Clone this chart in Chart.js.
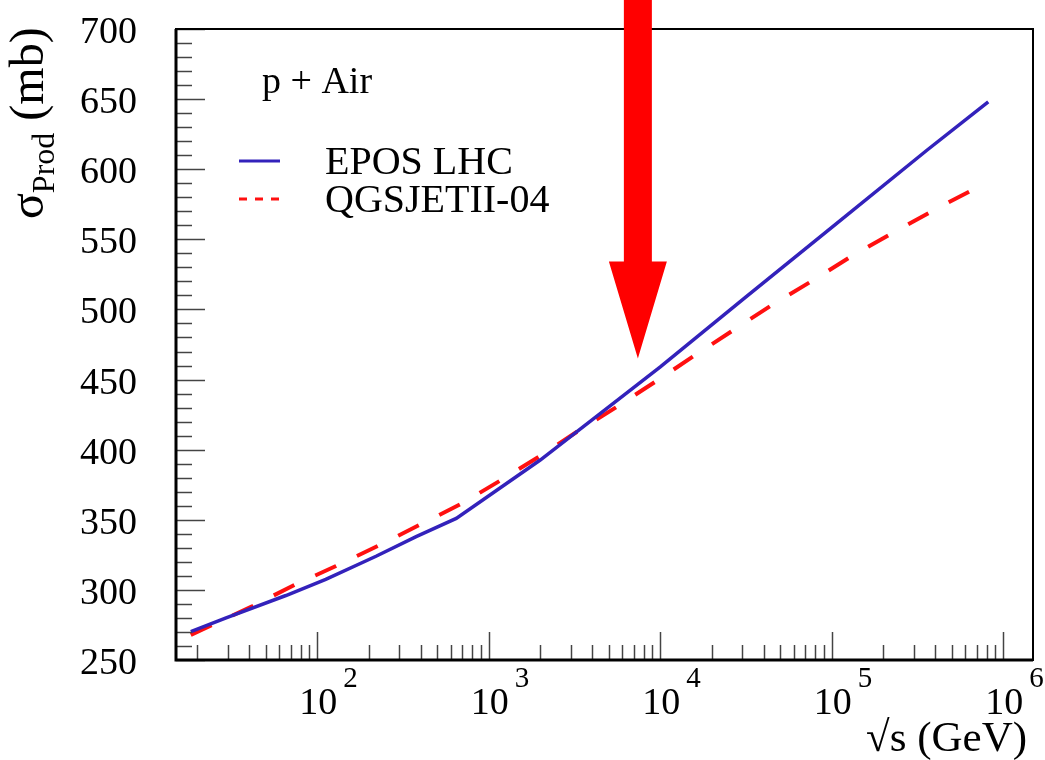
<!DOCTYPE html>
<html>
<head>
<meta charset="utf-8">
<script src="https://cdn.jsdelivr.net/npm/chart.js@4.4.0/dist/chart.umd.min.js"></script>
<style>
  html, body { margin: 0; padding: 0; background: #fff; }
</style>
</head>
<body>
<canvas id="chart" width="1045" height="760"></canvas>
<script>
// sqrt(s) in GeV and production cross section in mb
const eposX = [18.3, 29.4, 65.6, 112, 220, 377, 646, 1995, 10000, 31600, 100000, 360000, 817000];
const eposY = [270.2, 280, 296, 307.5, 324, 338, 351, 392.6, 459, 509, 558.5, 613.7, 648];

const qgsX = [18.3, 42, 73.5, 128.5, 225, 394, 689, 1164, 1991, 3334, 5585, 9550, 16000,
              26700, 45700, 78300, 131000, 224000, 385000, 671000];
const qgsY = [267.8, 288.5, 303.5, 317, 331.3, 346.3, 361.3, 377.9, 395.5, 413.5, 430.6, 449.2, 467.5,
              485.3, 503.9, 521, 538.1, 554.3, 570.2, 585.7];

const seriesNames = ['EPOS LHC', 'QGSJETII-04'];
const yTicks = [250, 300, 350, 400, 450, 500, 550, 600, 650, 700];
const xDecades = [2, 3, 4, 5, 6];
const systemLabel = 'p + Air';

// the big red arrow points at LHC energy
const arrowEnergy = 7400;
const arrowTipValue = 465;

const SERIF = '"Liberation Serif", "DejaVu Serif", serif';

const rootStyle = {
  id: 'rootStyle',
  afterDraw(chart) {
    const ctx = chart.ctx;
    const { left, right, top, bottom } = chart.chartArea;
    const xs = chart.scales.x, ys = chart.scales.y;
    ctx.save();

    // ticks inside the frame, ROOT style
    ctx.strokeStyle = '#444';
    ctx.lineWidth = 1.5;
    const yStep = (yTicks[1] - yTicks[0]) / 5;
    for (let v = yTicks[0]; v <= yTicks[yTicks.length - 1]; v += yStep) {
      const py = Math.round(ys.getPixelForValue(v)) + 0.5;
      const major = yTicks.includes(v);
      ctx.beginPath();
      ctx.moveTo(left, py);
      ctx.lineTo(left + (major ? 29 : 16), py);
      ctx.stroke();
    }
    for (let e = 0; e <= 7; e++) {
      for (let m = 1; m <= 9; m++) {
        const v = m * Math.pow(10, e);
        if (v < xs.min || v > xs.max) continue;
        const px = Math.round(xs.getPixelForValue(v)) + 0.5;
        ctx.beginPath();
        ctx.moveTo(px, bottom);
        ctx.lineTo(px, bottom - (m === 1 ? 28 : 15));
        ctx.stroke();
      }
    }

    // frame
    ctx.strokeStyle = '#000';
    ctx.lineWidth = 2;
    ctx.strokeRect(left, top, right - left, bottom - top);
    ctx.lineWidth = 3;
    ctx.beginPath();
    ctx.moveTo(left, top);
    ctx.lineTo(left, bottom);
    ctx.lineTo(right, bottom);
    ctx.stroke();

    ctx.fillStyle = '#000';
    ctx.textBaseline = 'alphabetic';

    // y tick labels
    ctx.font = '38px ' + SERIF;
    ctx.textAlign = 'right';
    yTicks.forEach(v => {
      ctx.fillText(String(v), 137, ys.getPixelForValue(v) + 14);
    });

    // x tick labels 10^n
    xDecades.forEach(e => {
      const px = xs.getPixelForValue(Math.pow(10, e));
      ctx.font = '38px ' + SERIF;
      ctx.textAlign = 'center';
      ctx.fillText('10', px + 1, 714);
      const w = ctx.measureText('10').width;
      ctx.font = '29px ' + SERIF;
      ctx.textAlign = 'left';
      ctx.fillText(String(e), px + w / 2 + 7, 687);
    });

    // axis titles
    ctx.font = '43px ' + SERIF;
    ctx.textAlign = 'right';
    ctx.fillText('\u221As (GeV)', 1027, 751);

    ctx.save();
    ctx.translate(43, 219);
    ctx.rotate(-Math.PI / 2);
    ctx.textAlign = 'left';
    let cx = 0;
    ctx.font = '48px ' + SERIF;
    ctx.fillText('\u03C3', cx, 0);
    cx += ctx.measureText('\u03C3').width;
    ctx.font = '32px ' + SERIF;
    ctx.fillText('Prod', cx, 11);
    cx += ctx.measureText('Prod').width;
    ctx.font = '48px ' + SERIF;
    ctx.fillText(' (mb)', cx, 0);
    ctx.restore();

    // legend
    ctx.textAlign = 'left';
    ctx.font = '38px ' + SERIF;
    ctx.fillText(systemLabel, 262, 93);
    const rows = [161, 199];
    const textBase = [174, 212];
    chart.data.datasets.forEach((ds, i) => {
      ctx.strokeStyle = ds.borderColor;
      ctx.lineWidth = 3;
      ctx.setLineDash(i === 1 ? [8, 8] : []);
      ctx.beginPath();
      ctx.moveTo(239, rows[i]);
      ctx.lineTo(280, rows[i]);
      ctx.stroke();
      ctx.setLineDash([]);
      ctx.font = '40px ' + SERIF;
      ctx.fillText(ds.label, 325, textBase[i]);
    });

    // arrow
    const ax = xs.getPixelForValue(arrowEnergy);
    const tipY = ys.getPixelForValue(arrowTipValue);
    const headLen = 97, headHalf = 29, shaftHalf = 14;
    ctx.fillStyle = '#ff0000';
    ctx.beginPath();
    ctx.moveTo(ax - shaftHalf, 0);
    ctx.lineTo(ax + shaftHalf, 0);
    ctx.lineTo(ax + shaftHalf, tipY - headLen);
    ctx.lineTo(ax + headHalf, tipY - headLen);
    ctx.lineTo(ax, tipY);
    ctx.lineTo(ax - headHalf, tipY - headLen);
    ctx.lineTo(ax - shaftHalf, tipY - headLen);
    ctx.closePath();
    ctx.fill();

    ctx.restore();
  }
};

const toPoints = (xs, ys) => xs.map((x, i) => ({ x: x, y: ys[i] }));

new Chart(document.getElementById('chart'), {
  type: 'line',
  data: {
    datasets: [
      {
        label: seriesNames[0],
        data: toPoints(eposX, eposY),
        borderColor: '#3322bb',
        borderWidth: 3.5,
        pointRadius: 0,
        tension: 0,
        fill: false
      },
      {
        label: seriesNames[1],
        data: toPoints(qgsX, qgsY),
        borderColor: '#ff1010',
        borderWidth: 4,
        borderDash: [23, 23],
        pointRadius: 0,
        tension: 0,
        fill: false
      }
    ]
  },
  options: {
    responsive: false,
    animation: false,
    devicePixelRatio: 1,
    layout: { padding: { left: 176, top: 29, right: 12, bottom: 100 } },
    plugins: {
      legend: { display: false },
      tooltip: { enabled: false }
    },
    scales: {
      x: {
        type: 'logarithmic',
        display: false,
        min: 15,
        max: 1.49e6
      },
      y: {
        type: 'linear',
        display: false,
        min: 250,
        max: 700
      }
    }
  },
  plugins: [rootStyle]
});
</script>
</body>
</html>
